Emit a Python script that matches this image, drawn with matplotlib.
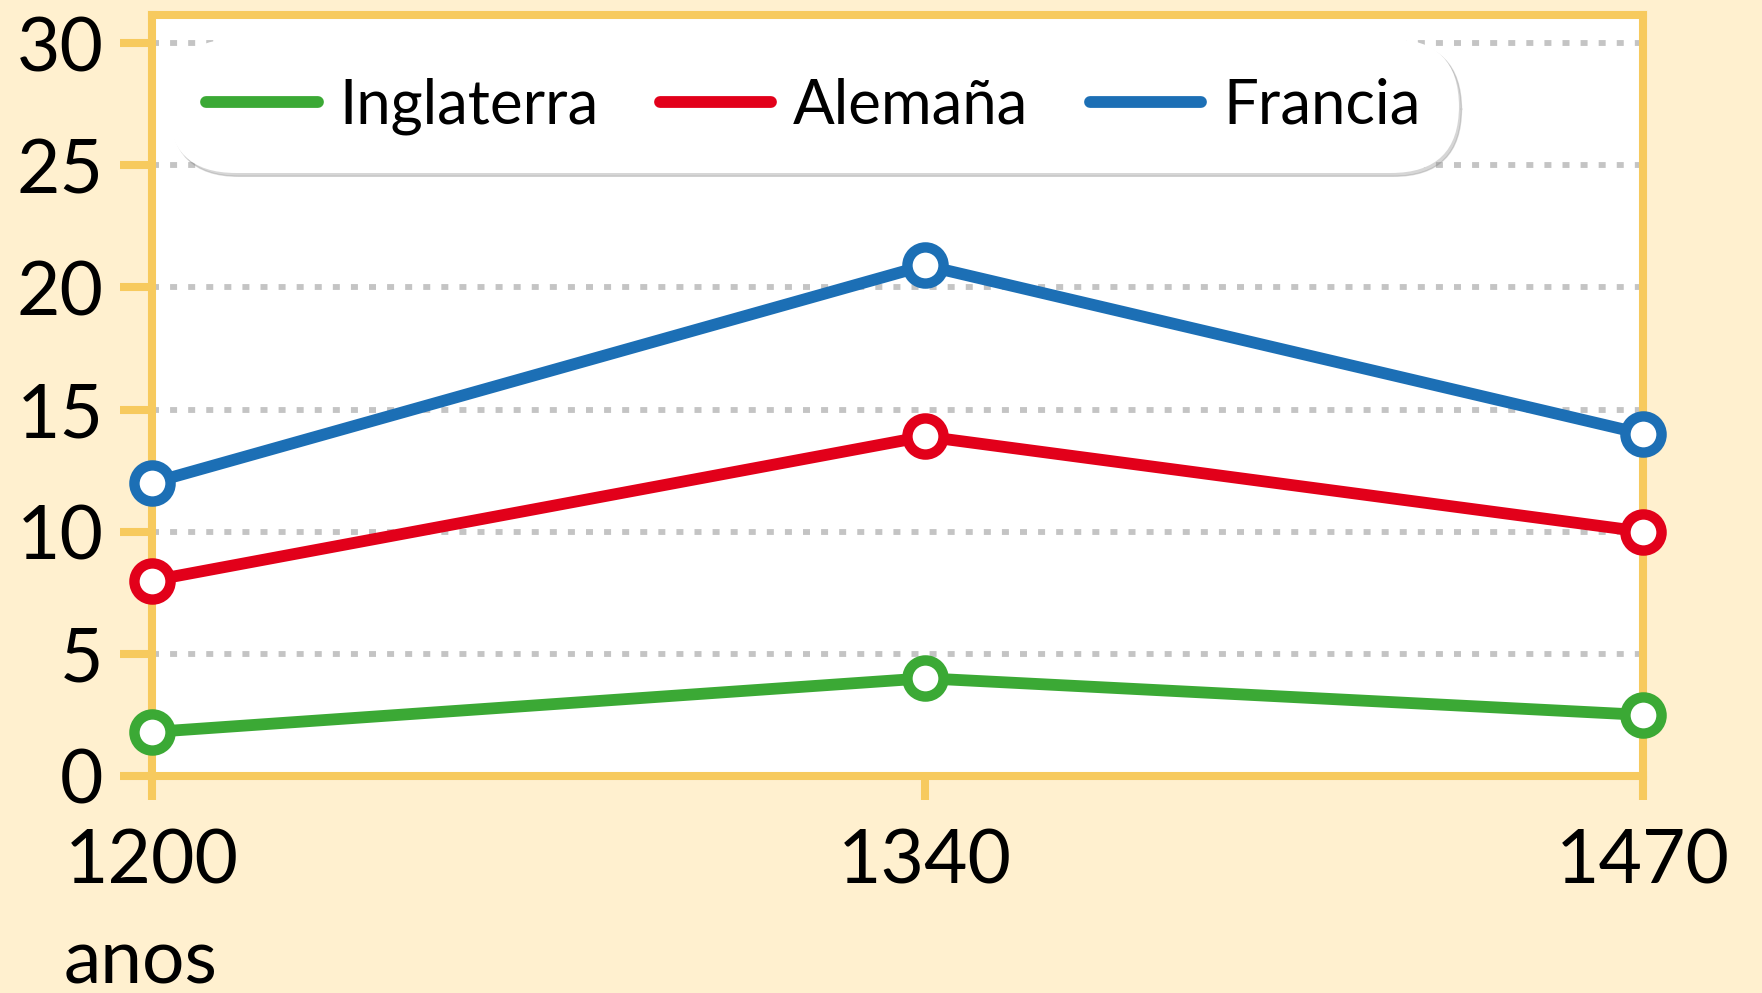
import matplotlib
matplotlib.use("Agg")
import matplotlib.pyplot as plt

# data
years = [1200, 1340, 1470]
inglaterra = [1.8, 4.0, 2.5]
alemana = [8.0, 13.9, 10.0]
francia = [12.0, 20.9, 14.0]
series_names = ["Inglaterra", "Alemaña", "Francia"]
y_ticks = [0, 5, 10, 15, 20, 25, 30]

bg = "#FFF0CF"
border = "#F7CA5E"
colors = ["#3BA935", "#E2001A", "#1C6FB5"]

plt.rcParams['font.family'] = ['Lato', 'DejaVu Sans']

fig = plt.figure(figsize=(17.62, 9.93), dpi=100, facecolor=bg)
ax = fig.add_axes([152 / 1762, 1 - 776 / 993, (1643 - 152) / 1762, (776 - 15) / 993])
ax.set_facecolor("white")

for vals, c, name in zip([inglaterra, alemana, francia], colors, series_names):
    ax.plot(years, vals, color=c, lw=8.5, marker="o", ms=26, mfc="white",
            mec=c, mew=7.5, label=name, clip_on=False, zorder=5,
            solid_capstyle="round")

ax.set_xlim(1200, 1470)
ax.set_ylim(0, 31.15)
ax.set_xticks(years)
ax.set_yticks(y_ticks)

for y in y_ticks[1:]:
    ax.axhline(y, color="#C4C4C4", lw=4.2, ls=(0, (1.2, 1.9)), zorder=1)

for s in ax.spines.values():
    s.set_color(border)
    s.set_linewidth(5.8)
ax.tick_params(axis="y", length=23, width=5.8, color=border, labelsize=54, pad=12)
ax.tick_params(axis="x", length=17, width=5.8, color=border, labelsize=54, pad=20)

leg = ax.legend(loc="upper left", bbox_to_anchor=(0.0107, 0.968), borderaxespad=0,
                ncol=3, fontsize=44.5, frameon=True, fancybox=True,
                handlelength=1.8, handletextpad=0.35, columnspacing=1.0,
                borderpad=0.62, framealpha=1,
                shadow={"color": "0.55", "alpha": 0.35})
leg.get_frame().set_edgecolor("none")
leg.get_frame().set_facecolor("white")
leg.get_frame().set_boxstyle("round,pad=0,rounding_size=1.1")
for h in leg.get_lines():
    h.set_marker("")
    h.set_linewidth(8.5)
    h.set_solid_capstyle("round")
leg.set_zorder(10)

fig.text(64 / 1762, 1 - 962 / 993, "anos", fontsize=54, ha="left", va="center")

fig.savefig("out.png", dpi=100, facecolor=bg)
